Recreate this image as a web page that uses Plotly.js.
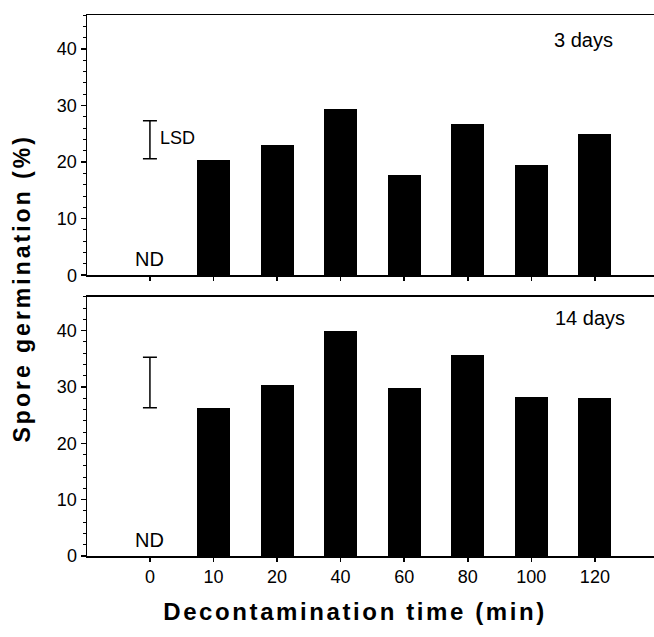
<!DOCTYPE html>
<html>
<head>
<meta charset="utf-8">
<script src="https://cdn.plot.ly/plotly-3.0.1.min.js"></script>
<style>
html,body{margin:0;padding:0;background:#fff;}
#chart{width:654px;height:637px;}
</style>
</head>
<body>
<div id="chart"></div>
<script>
const categories = ["0","10","20","40","60","80","100","120"];
const day3Values = [0, 20.3, 23.1, 29.4, 17.7, 26.8, 19.5, 25.0];
const day14Values = [0, 26.3, 30.4, 40.0, 29.9, 35.6, 28.2, 28.0];
const lsd3 = 6.7, lsd3Base = 20.6;
const lsd14 = 9.0, lsd14Base = 26.3;
const panelLabels = ["3 days", "14 days"];
const ndLabel = "ND";

const tickFont = {family: "'Liberation Sans', Arial, sans-serif", size: 18, color: "#000"};
const textFont = {family: "'Liberation Sans', Arial, sans-serif", size: 20, color: "#000"};

function barTrace(vals, xa, ya) {
  return {type: "bar", x: categories.slice(1), y: vals.slice(1), xaxis: xa, yaxis: ya,
    marker: {color: "#000", line: {width: 0}}, width: 0.52, showlegend: false, hoverinfo: "none"};
}
function lsdTrace(base, len, xa, ya) {
  return {type: "scatter", mode: "markers", x: [categories[0]], y: [base], xaxis: xa, yaxis: ya,
    marker: {size: 1, color: "rgba(0,0,0,0)"}, showlegend: false, hoverinfo: "none",
    error_y: {type: "data", symmetric: false, array: [len], arrayminus: [0], color: "#000", thickness: 1.5, width: 7}};
}

const data = [
  barTrace(day3Values, "x", "y"),
  lsdTrace(lsd3Base, lsd3, "x", "y"),
  barTrace(day14Values, "x2", "y2"),
  lsdTrace(lsd14Base, lsd14, "x2", "y2")
];

function xAxis(anchor, showLabels) {
  return {type: "category", categoryorder: "array", categoryarray: categories, range: [-0.99, 7.93],
    anchor: anchor, showline: true, linecolor: "#000", linewidth: 1.5, mirror: true,
    ticks: "outside", ticklen: 4, tickwidth: 1.5, tickcolor: "#000",
    showticklabels: showLabels, tickfont: tickFont, showgrid: false, zeroline: false, fixedrange: true};
}
function yAxis(anchor, domain) {
  return {domain: domain, range: [0, 46], anchor: anchor, showline: true, linecolor: "#000", linewidth: 1.5,
    ticks: "outside", ticklen: 5, tickwidth: 1.5, tickcolor: "#000", dtick: 10, tick0: 0,
    minor: {dtick: 2, ticks: "outside", ticklen: 3, tickwidth: 1, tickcolor: "#000"},
    tickfont: tickFont, showgrid: false, zeroline: false, fixedrange: true};
}

const layout = {
  width: 654, height: 637,
  margin: {l: 87, r: 0, t: 15, b: 81},
  paper_bgcolor: "#fff", plot_bgcolor: "#fff",
  bargap: 0,
  xaxis: Object.assign(xAxis("y", false), {domain: [0, 1]}),
  yaxis: yAxis("x", [0.519, 1]),
  xaxis2: Object.assign(xAxis("y2", true), {domain: [0, 1]}),
  yaxis2: yAxis("x2", [0, 0.479]),
  annotations: [
    {text: panelLabels[0], xref: "paper", yref: "y", x: 0.875, y: 41.5, xanchor: "center", yanchor: "middle", showarrow: false, font: textFont},
    {text: panelLabels[1], xref: "paper", yref: "y2", x: 0.888, y: 42.2, xanchor: "center", yanchor: "middle", showarrow: false, font: textFont},
    {text: ndLabel, xref: "x", yref: "y", x: categories[0], y: 2.8, xanchor: "center", yanchor: "middle", showarrow: false, font: textFont},
    {text: ndLabel, xref: "x2", yref: "y2", x: categories[0], y: 2.8, xanchor: "center", yanchor: "middle", showarrow: false, font: textFont},
    {text: "LSD", xref: "x", yref: "y", x: 0.12, y: 24.2, xanchor: "left", yanchor: "middle", showarrow: false, font: {family: textFont.family, size: 18, color: "#000"}},
    {text: "<b>Spore germination (%)</b>", xref: "paper", yref: "paper", x: -0.115, y: 0.495, xanchor: "center", yanchor: "middle", textangle: -90, showarrow: false, font: {family: "'Liberation Sans', Arial, sans-serif", size: 23, color: "#000"}},
    {text: "<b>Decontamination time (min)</b>", xref: "paper", yref: "paper", x: 0.473, y: -0.103, xanchor: "center", yanchor: "middle", showarrow: false, font: {family: "'Liberation Sans', Arial, sans-serif", size: 24, color: "#000"}}
  ]
};

Plotly.newPlot("chart", data, layout, {displayModeBar: false, staticPlot: true}).then(() => {
  document.querySelectorAll(".annotation-text").forEach(t => {
    if (t.textContent.indexOf("Spore") === 0) t.style.letterSpacing = "3px";
    if (t.textContent.indexOf("Decontamination") === 0) t.style.letterSpacing = "2.6px";
  });
});
</script>
</body>
</html>
